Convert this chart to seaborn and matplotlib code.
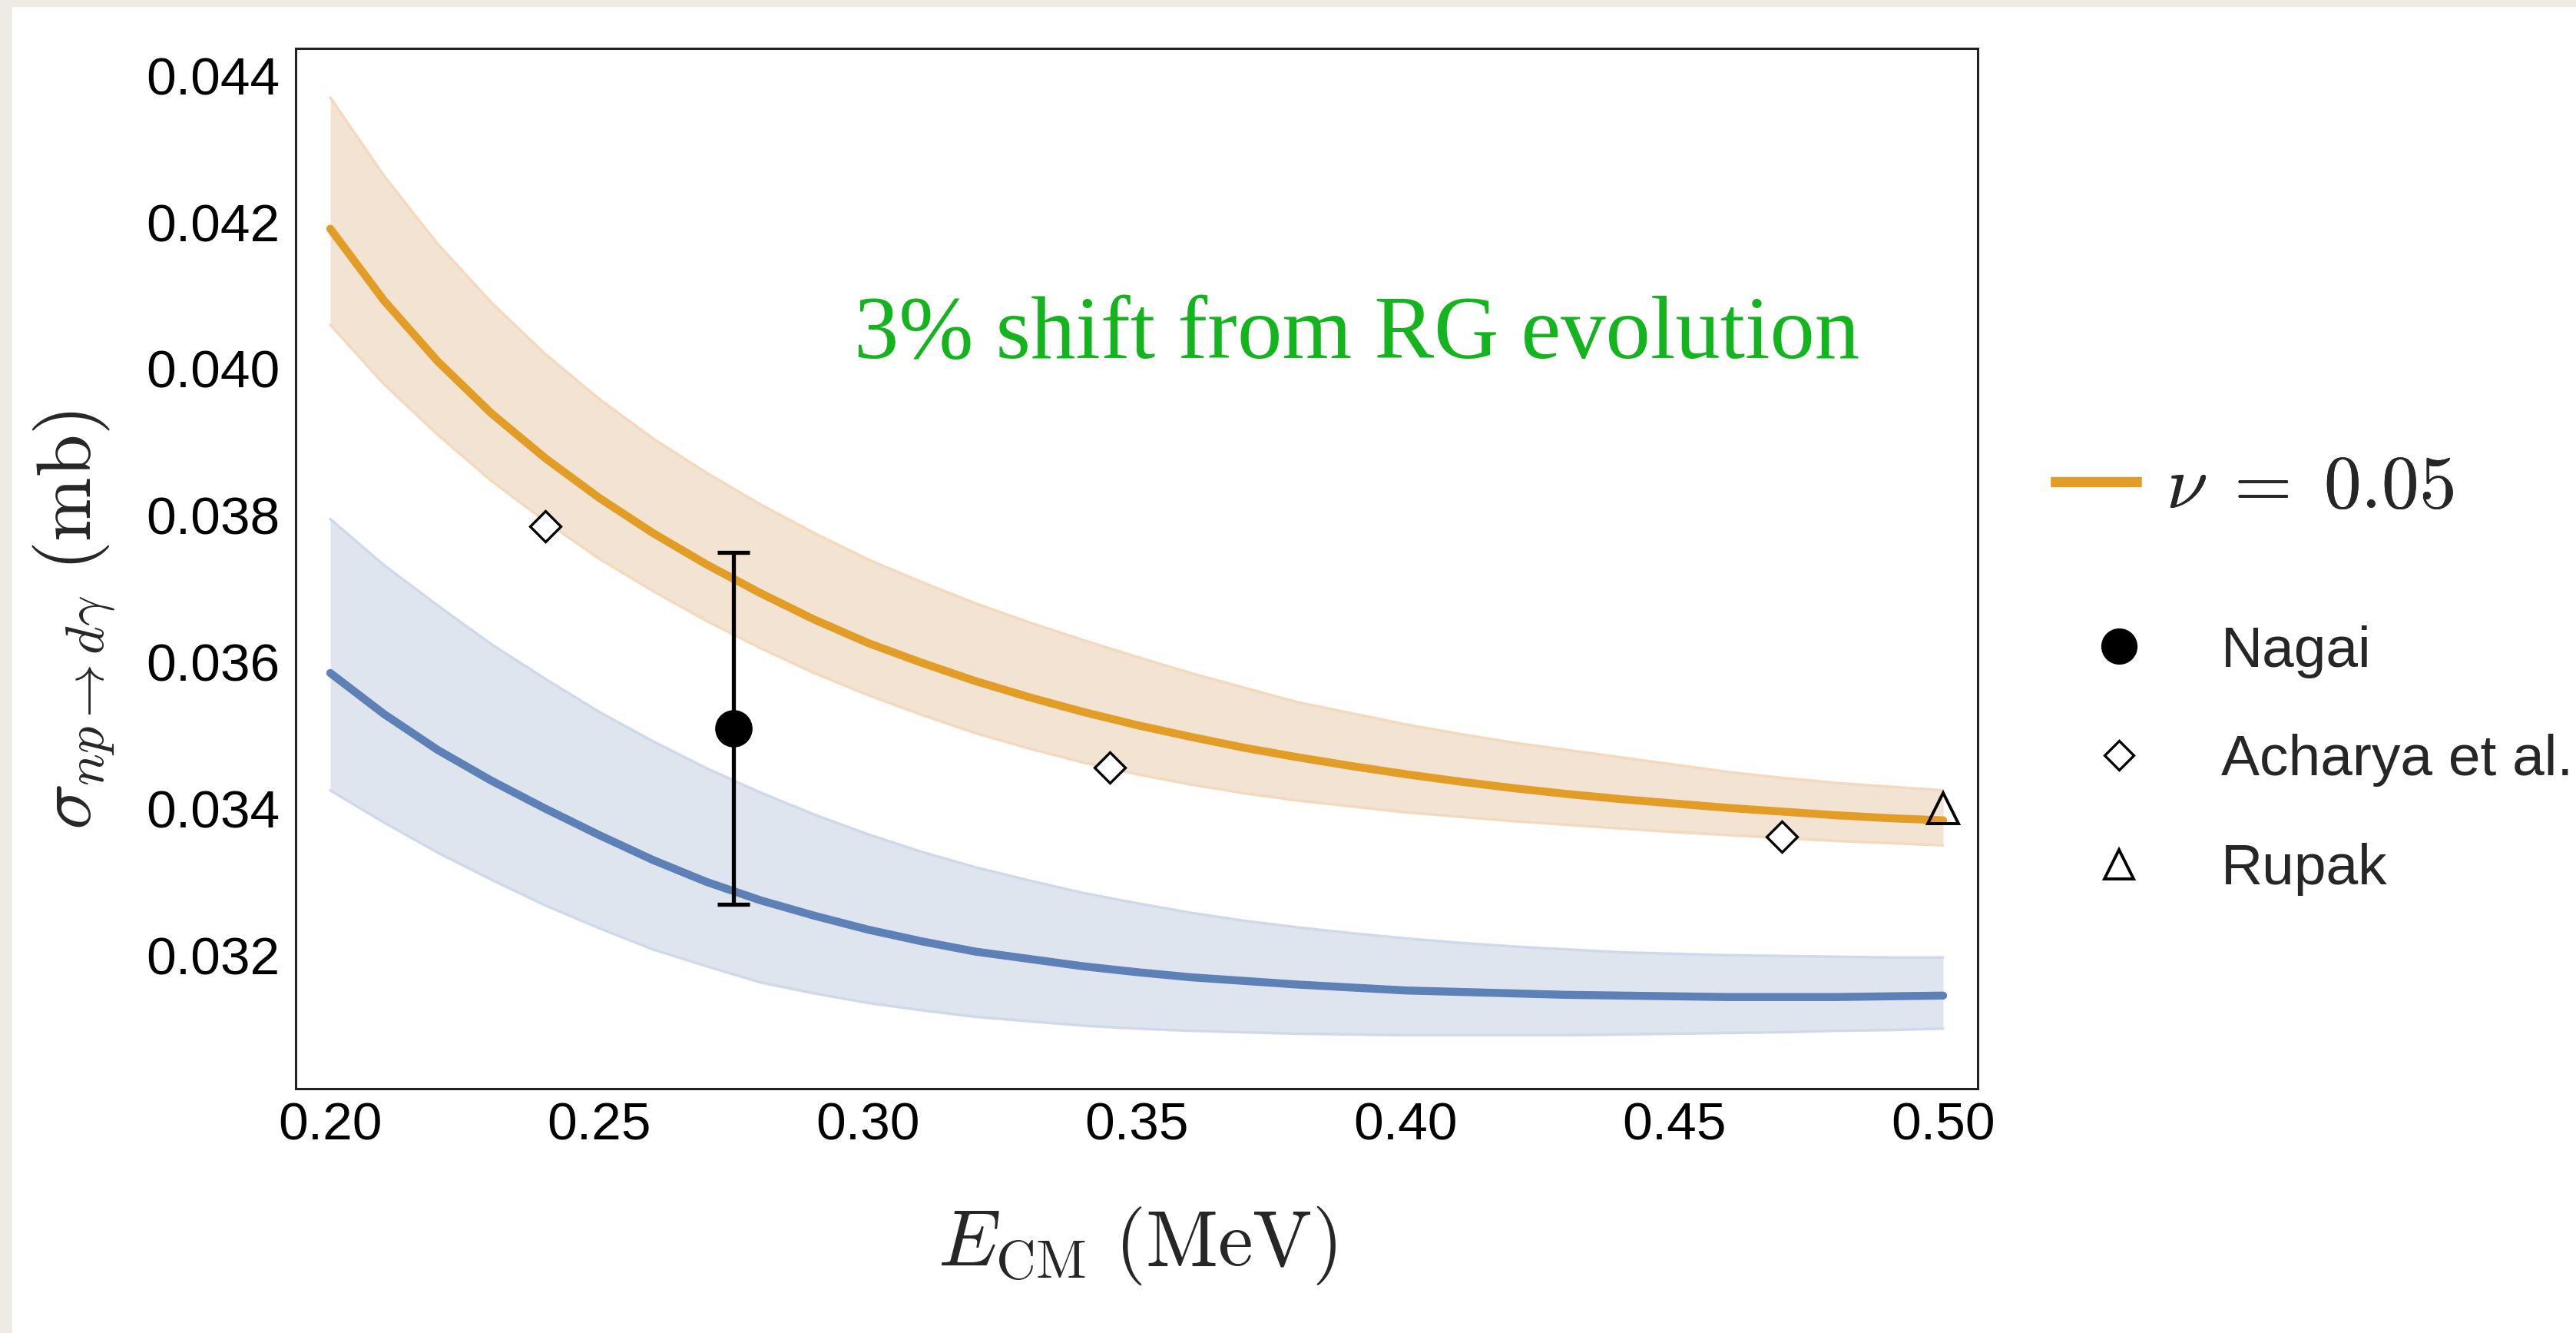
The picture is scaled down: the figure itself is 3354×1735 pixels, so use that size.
import numpy as np
import pandas as pd
import matplotlib
matplotlib.use("Agg")
import matplotlib.pyplot as plt
import seaborn as sns
from matplotlib.patches import Rectangle
from matplotlib.lines import Line2D
from matplotlib.ticker import MultipleLocator, FormatStrFormatter, FixedLocator

# ---------------- data ----------------
energy = [0.20, 0.21, 0.22, 0.23, 0.24, 0.25, 0.26, 0.27, 0.28, 0.29,
          0.30, 0.31, 0.32, 0.33, 0.34, 0.35, 0.36, 0.37, 0.38, 0.39,
          0.40, 0.41, 0.42, 0.43, 0.44, 0.45, 0.46, 0.47, 0.48, 0.49, 0.50]

nu_central = [0.04191, 0.04093, 0.04010, 0.03939, 0.03878, 0.03824, 0.03776, 0.03733,
              0.03694, 0.03658, 0.03626, 0.03599, 0.03574, 0.03552, 0.03532, 0.03514,
              0.03498, 0.03483, 0.03470, 0.03458, 0.03447, 0.03437, 0.03428, 0.03420,
              0.03413, 0.03407, 0.03401, 0.03396, 0.03391, 0.03387, 0.03384]
nu_upper = [0.04370, 0.04263, 0.04170, 0.04090, 0.04020, 0.03959, 0.03905, 0.03858,
            0.03815, 0.03776, 0.03740, 0.03709, 0.03680, 0.03654, 0.03630, 0.03607,
            0.03585, 0.03565, 0.03545, 0.03530, 0.03515, 0.03502, 0.03490, 0.03480,
            0.03470, 0.03460, 0.03450, 0.03442, 0.03435, 0.03430, 0.03425]
nu_lower = [0.04060, 0.03979, 0.03910, 0.03847, 0.03792, 0.03741, 0.03697, 0.03656,
            0.03619, 0.03585, 0.03555, 0.03528, 0.03503, 0.03482, 0.03463, 0.03447,
            0.03433, 0.03421, 0.03411, 0.03403, 0.03395, 0.03389, 0.03383, 0.03378,
            0.03373, 0.03368, 0.03364, 0.03360, 0.03356, 0.03353, 0.03350]

base_central = [0.03585, 0.03529, 0.03480, 0.03438, 0.03400, 0.03364, 0.03330, 0.03300,
                0.03275, 0.03254, 0.03235, 0.03219, 0.03205, 0.03195, 0.03185, 0.03177,
                0.03170, 0.03165, 0.03160, 0.03156, 0.03152, 0.03150, 0.03148, 0.03146,
                0.03145, 0.03144, 0.03143, 0.03143, 0.03143, 0.03144, 0.03145]
base_upper = [0.03795, 0.03732, 0.03677, 0.03624, 0.03577, 0.03532, 0.03492, 0.03455,
              0.03422, 0.03392, 0.03365, 0.03341, 0.03320, 0.03302, 0.03285, 0.03271,
              0.03258, 0.03247, 0.03238, 0.03230, 0.03223, 0.03217, 0.03212, 0.03208,
              0.03204, 0.03202, 0.03200, 0.03199, 0.03198, 0.03197, 0.03197]
base_lower = [0.03425, 0.03381, 0.03340, 0.03303, 0.03268, 0.03237, 0.03208, 0.03185,
              0.03163, 0.03148, 0.03135, 0.03125, 0.03116, 0.03110, 0.03104, 0.03100,
              0.03097, 0.03095, 0.03093, 0.03092, 0.03091, 0.03091, 0.03091, 0.03091,
              0.03092, 0.03093, 0.03094, 0.03095, 0.03097, 0.03098, 0.03100]

nagai_E = [0.275]
nagai_sigma = [0.0351]
nagai_err = [0.0024]

acharya_E = [0.24, 0.345, 0.47]
acharya_sigma = [0.03785, 0.03456, 0.03362]

rupak_E = [0.50]
rupak_sigma = [0.0340]

xticks = [0.20, 0.25, 0.30, 0.35, 0.40, 0.45, 0.50]
yticks = [0.032, 0.034, 0.036, 0.038, 0.040, 0.042, 0.044]

legend_line_label = r"$\nu\;=\;0.05$"
legend_point_labels = ["Nagai", "Acharya et al.", "Rupak"]
annotation = "3% shift from RG evolution"

# ---------------- style ----------------
sns.set_style("white")
plt.rcParams["font.family"] = ["Liberation Sans", "DejaVu Sans"]
plt.rcParams["mathtext.fontset"] = "cm"

ORANGE = "#e29d26"
BLUE = "#5d80b6"
ORANGE_FILL = "#f3e3d3"
ORANGE_EDGE = "#f3d9bd"
BLUE_FILL = "#dfe5ef"
BLUE_EDGE = "#cfd9e9"

W, H = 3354, 1735
fig = plt.figure(figsize=(W / 100, H / 100), dpi=100)
fig.patch.set_facecolor("#eeebe3")
fig.add_artist(Rectangle((16 / W, 0), 1 - 16 / W, 1 - 9 / H, transform=fig.transFigure,
                         facecolor="white", edgecolor="none", zorder=0))

ax = fig.add_axes([385 / W, 1 - 1417 / H, (2575 - 385) / W, (1417 - 63) / H])
ax.set_facecolor("white")

df_nu = pd.DataFrame({"E": energy, "sigma": nu_central})
df_base = pd.DataFrame({"E": energy, "sigma": base_central})

# bands
ax.fill_between(energy, base_lower, base_upper, color=BLUE_FILL, lw=0, zorder=1)
ax.fill_between(energy, nu_lower, nu_upper, color=ORANGE_FILL, lw=0, zorder=1)
for arr in (base_lower, base_upper):
    ax.plot(energy, arr, color=BLUE_EDGE, lw=2.5, zorder=1.5)
for arr in (nu_lower, nu_upper):
    ax.plot(energy, arr, color=ORANGE_EDGE, lw=2.5, zorder=1.5)

# central curves
sns.lineplot(data=df_base, x="E", y="sigma", color=BLUE, lw=7.5, ax=ax, zorder=3)
sns.lineplot(data=df_nu, x="E", y="sigma", color=ORANGE, lw=7.5, ax=ax, zorder=3)

# data points
ax.errorbar(nagai_E, nagai_sigma, yerr=nagai_err, fmt="o", color="black", ms=34,
            elinewidth=3.8, capsize=15, capthick=3.8, zorder=5)
ax.plot(acharya_E, acharya_sigma, ls="none", marker="D", ms=20, mfc="white",
        mec="black", mew=2.4, zorder=5)
ax.plot(rupak_E, rupak_sigma, ls="none", marker="^", ms=29, mfc="none",
        mec="black", mew=2.8, zorder=6)

# axes
ax.set_xlim(0.19357, 0.50643)
ax.set_ylim(0.03018, 0.04437)
ax.xaxis.set_major_locator(FixedLocator(xticks))
ax.yaxis.set_major_locator(FixedLocator(yticks))
ax.xaxis.set_minor_locator(MultipleLocator(0.01))
ax.yaxis.set_minor_locator(MultipleLocator(0.0005))
ax.xaxis.set_major_formatter(FormatStrFormatter("%.2f"))
ax.yaxis.set_major_formatter(FormatStrFormatter("%.3f"))
ax.tick_params(which="both", direction="in", top=False, right=False,
               color="#222222", width=2.0)
ax.tick_params(which="major", length=11, labelsize=50, labelcolor="black")
ax.tick_params(axis="x", which="major", pad=12)
ax.tick_params(axis="y", which="major", pad=15)
ax.tick_params(which="minor", length=6.5)
for s in ax.spines.values():
    s.set_color("#222222")
    s.set_linewidth(2.2)

ax.set_xlabel(r"$E_{\mathrm{CM}}\ (\mathrm{MeV})$", fontsize=74)
ax.xaxis.set_label_coords(0.5, (1417 - 1647) / 1354)
ax.xaxis.label.set_va("baseline")
ax.set_ylabel(r"$\sigma_{np\to d\gamma}\ (\mathrm{mb})$", fontsize=72)
ax.yaxis.set_label_coords((96 - 385) / 2190, (1417 - 807) / 1354)
ax.yaxis.label.set_va("center")

ax.text(0.3909, 0.04015, annotation, ha="center", va="baseline", fontsize=84,
        family=["Liberation Serif", "DejaVu Serif"], color="#14b41e", zorder=6)

# legends
em1 = 70 * 100 / 72
h1 = Line2D([], [], color=ORANGE, lw=9.5, solid_capstyle="butt")
leg1 = fig.legend([h1], [legend_line_label], loc="center left",
                  bbox_to_anchor=(2670 / W, 1 - 636 / H), frameon=False, fontsize=70,
                  handlelength=118 / em1, handletextpad=32 / em1, borderpad=0,
                  borderaxespad=0)
fig.add_artist(leg1)

em2 = 54 * 100 / 72
h_n = Line2D([], [], ls="none", marker="o", ms=33, color="black")
h_a = Line2D([], [], ls="none", marker="D", ms=19, mfc="white", mec="black", mew=2.4)
h_r = Line2D([], [], ls="none", marker="^", ms=27, mfc="none", mec="black", mew=2.8)
leg2 = fig.legend([h_n, h_a, h_r], legend_point_labels, loc="center left",
                  bbox_to_anchor=((2759 - em2 / 2) / W, 1 - 990 / H), frameon=False,
                  fontsize=54, handlelength=1.0, handletextpad=(2892 - 2759 - em2 / 2) / em2,
                  labelspacing=0.97, borderpad=0, borderaxespad=0, numpoints=1)

fig.savefig("out.png", dpi=100, facecolor=fig.get_facecolor())
